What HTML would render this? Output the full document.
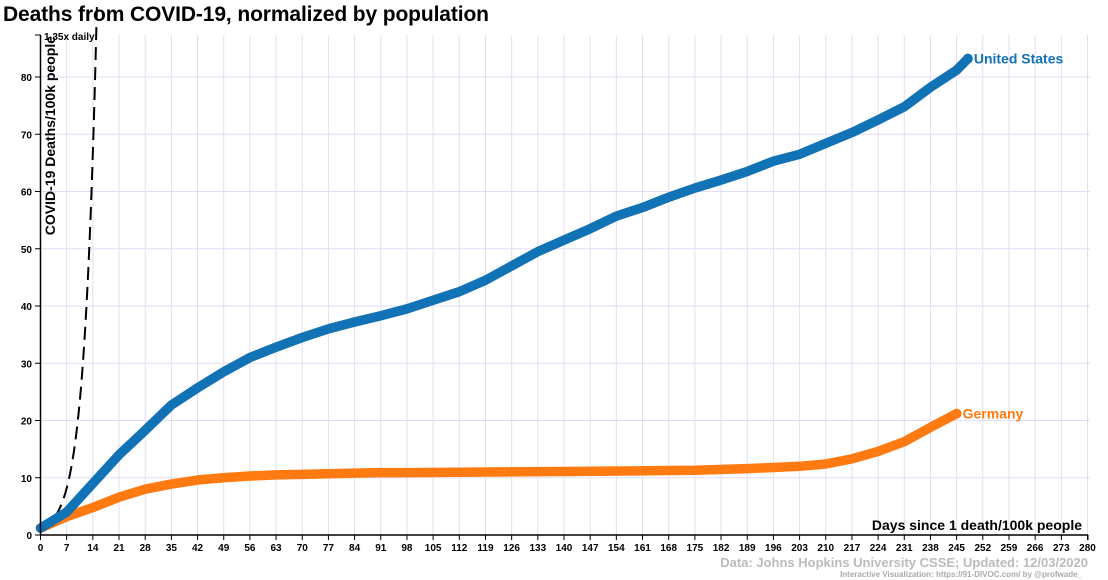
<!DOCTYPE html>
<html><head><meta charset="utf-8"><style>
body{margin:0;background:#fff;font-family:"Liberation Sans",sans-serif;}
svg{display:block}
</style></head><body>
<svg width="1108" height="580" xmlns="http://www.w3.org/2000/svg" font-family="Liberation Sans, sans-serif">
<g id="grid"></g>
<g id="series"></g>
<g id="axes"></g>
<text x="3" y="21" font-size="21" font-weight="bold" fill="#000" textLength="486">Deaths from COVID-19, normalized by population</text>
<text transform="translate(55,36) rotate(-90)" text-anchor="end" font-size="14" font-weight="bold">COVID-19 Deaths/100k people</text>
<text x="1082" y="530" text-anchor="end" font-size="14" font-weight="bold">Days since 1 death/100k people</text>
<text x="44" y="40" font-size="10" font-weight="bold">1.35x daily</text>
<text x="1088" y="567" text-anchor="end" font-size="13" font-weight="bold" fill="#bbb">Data: Johns Hopkins University CSSE; Updated: 12/03/2020</text>
<text x="1082" y="577" text-anchor="end" font-size="8" font-weight="bold" fill="#aaa">Interactive Visualization: https://91-DIVOC.com/ by @profwade_</text>
</svg>
<script>
const usDays=[0,7,14,21,28,35,42,49,56,63,70,77,84,91,98,105,112,119,126,133,140,147,154,161,168,175,182,189,196,203,210,217,224,231,238,245,248];
const usValues=[1.2,4,9,14,18.3,22.7,25.7,28.5,31,32.8,34.5,36,37.2,38.3,39.5,41,42.5,44.5,47,49.5,51.5,53.5,55.7,57.2,59,60.6,62,63.5,65.3,66.5,68.4,70.3,72.5,74.8,78.2,81.2,83.2];
const deDays=[0,7,14,21,28,35,42,49,56,63,70,77,84,91,98,140,175,189,196,203,210,217,224,231,238,245];
const deValues=[1.2,3.2,4.8,6.6,8,8.9,9.6,10,10.3,10.5,10.6,10.7,10.8,10.9,10.9,11.1,11.3,11.6,11.8,12,12.4,13.3,14.6,16.3,18.8,21.2];
const xTicks=[];for(let d=0;d<=280;d+=7)xTicks.push(d);
const yTicks=[0,10,20,30,40,50,60,70,80];
const growthRate=1.35;
const NS='http://www.w3.org/2000/svg';
const x=d=>40.5+d*(1047/280);
const y=v=>535-v*5.725;
function mk(tag,attrs,parent){const e=document.createElementNS(NS,tag);for(const k in attrs)e.setAttribute(k,attrs[k]);parent.appendChild(e);return e;}
const grid=document.getElementById('grid'),axes=document.getElementById('axes'),series=document.getElementById('series');
xTicks.forEach(d=>{
 const g=mk('line',{x1:x(d),x2:x(d),y1:35,y2:535,stroke:'#e2ddf6','stroke-width':1},grid);
 
 
 mk('line',{x1:x(d),x2:x(d),y1:535,y2:540,stroke:'#000'},axes);
 const t=mk('text',{x:x(d),y:551,'text-anchor':'middle','font-size':10,'font-weight':'bold'},axes);
 t.textContent=d;
 
 
});
yTicks.forEach(v=>{
 const g=mk('line',{x1:40.5,x2:1090,y1:y(v),y2:y(v),stroke:'#e2ddf6','stroke-width':1},grid);
 
 
 mk('line',{x1:35,x2:40.5,y1:y(v),y2:y(v),stroke:'#000'},axes);
 const t=mk('text',{x:32,y:y(v)+4,'text-anchor':'end','font-size':10,'font-weight':'bold'},axes);
 t.textContent=v;
 
 
});
mk('line',{x1:40.5,x2:40.5,y1:35,y2:535,stroke:'#000','stroke-width':1.5},axes);
mk('line',{x1:40.5,x2:1088,y1:535,y2:535,stroke:'#000','stroke-width':1.5},axes);
mk('line',{x1:35,x2:40.5,y1:35,y2:35,stroke:'#000'},axes);
mk('line',{x1:1088,x2:1088,y1:535,y2:540,stroke:'#000'},axes);
let pts=[];for(let d=0;d<=15.1;d+=0.1)pts.push(x(d)+','+y(Math.pow(growthRate,d)));
const gl=mk('polyline',{points:pts.join(' '),fill:'none',stroke:'#000','stroke-width':2,'stroke-dasharray':'13,7'},series);


function drawSeries(days,vals,color,name,label){
 const p=days.map((d,i)=>x(d)+','+y(vals[i])).join(' ');
 const l=mk('polyline',{points:p,fill:'none',stroke:color,'stroke-width':9.5,'stroke-linejoin':'round','stroke-linecap':'round'},series);
 
 
 const n=days.length-1;
 const c=mk('circle',{cx:x(days[n]),cy:y(vals[n]),r:5,fill:color},series);
 
 
 const t=mk('text',{x:x(days[n])+6,y:y(vals[n])+5,'font-size':14,'font-weight':'bold',fill:color},series);
 t.textContent=label;
 
 
}
drawSeries(deDays,deValues,'#ff7a10','germany','Germany');
drawSeries(usDays,usValues,'#1272b6','united-states','United States');
</script>
</body></html>
